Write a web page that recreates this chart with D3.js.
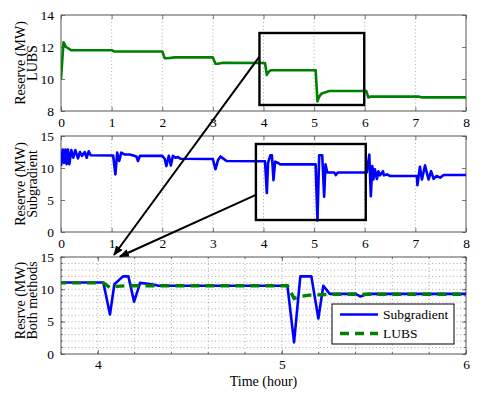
<!DOCTYPE html>
<html>
<head>
<meta charset="utf-8">
<script src="https://cdn.jsdelivr.net/npm/d3@7"></script>
<style>
  body { margin: 0; background: #fff; }
  svg { display: block; }
  text { font-family: "Liberation Serif", "Times New Roman", serif; fill: #000; }
</style>
</head>
<body>
<svg width="485" height="393"></svg>
<script>
  // LUBS reserve (MW) over time (hour)
  const lubsTime = [0, 0.05, 0.1, 0.2, 1.0, 1.05, 2.0, 2.05, 2.1, 2.25, 3.0, 3.05, 3.1, 3.2,
    4.03, 4.066, 4.1, 4.15, 5.03, 5.066, 5.1, 5.15, 5.3, 6.03, 6.07, 6.12, 7.08, 7.12, 8];
  const lubsValue = [10, 12.3, 12.0, 11.8, 11.8, 11.72, 11.72, 11.3, 11.3, 11.35, 11.35, 10.95, 10.95, 11.02,
    11.0, 10.25, 10.45, 10.55, 10.55, 8.6, 8.9, 9.1, 9.25, 9.25, 8.85, 8.9, 8.9, 8.85, 8.85];

  // Subgradient reserve (MW) over time (hour)
  const subTime = [0, 0.033, 0.059, 0.086, 0.112, 0.138, 0.165, 0.204, 0.244, 0.283, 0.336, 0.375, 0.415,
    0.468, 0.507, 0.547, 0.586, 1.03, 1.074, 1.11, 1.15, 1.19, 1.26, 1.36, 1.49, 1.52, 1.56, 2.0, 2.05,
    2.08, 2.13, 2.17, 2.21, 2.26, 2.31, 2.36, 3.0, 3.05, 3.10, 3.15, 3.2, 3.27, 4.03, 4.066, 4.09, 4.137,
    4.166, 4.197, 4.23, 4.3, 4.33, 5.03, 5.066, 5.1, 5.16, 5.198, 5.225, 5.26, 5.4, 5.425, 5.47, 6.04,
    6.09, 6.12, 6.15, 6.17, 6.20, 6.24, 6.27, 6.30, 6.36, 6.38, 6.44, 6.5, 7.03, 7.04, 7.09, 7.13, 7.19,
    7.26, 7.31, 7.36, 7.42, 7.49, 7.56, 7.62, 8.0];
  const subValue = [10.3, 12.9, 10.8, 12.9, 10.6, 12.9, 10.6, 12.8, 11.6, 12.8, 11.5, 12.5, 11.9,
    12.5, 11.6, 12.6, 12.0, 11.95, 9.0, 12.4, 11.1, 12.4, 12.1, 12.1, 11.8, 11.1, 11.9, 11.9, 11.4,
    10.3, 11.9, 10.4, 11.9, 11.6, 11.7, 11.45, 11.4, 9.8, 11.2, 11.8, 11.5, 11.1, 11.05, 6.1, 10.8, 12.0,
    12.0, 8.1, 11.0, 10.75, 10.56, 10.56, 1.8, 12.0, 12.0, 5.5, 10.56, 9.3, 9.3, 8.9, 9.3, 9.3,
    12.1, 5.6, 10.3, 8.2, 9.8, 8.3, 9.5, 8.85, 9.5, 8.85, 9.0, 8.75, 8.75, 7.3, 10.2, 8.2, 10.4,
    8.2, 9.5, 8.3, 8.75, 8.5, 8.9, 8.9, 8.9];

  const topXTicks = [0, 1, 2, 3, 4, 5, 6, 7, 8];
  const topYTicks = [8, 10, 12, 14];
  const midYTicks = [0, 5, 10, 15];
  const botXTicks = [4, 5, 6];
  const botYTicks = [0, 5, 10, 15];

  // zoom boxes and arrows (data units of their panels)
  const topBoxX = [3.92, 5.99], topBoxY = [8.375, 12.875];
  const midBoxX = [3.85, 6.02], midBoxY = [1.875, 13.75];
  const arrowFromTop = [3.92, 11.4], arrowToA = [4.088, 15.31];
  const arrowFromMid = [3.85, 5.8], arrowToB = [4.12, 15.08];

  const legendLabels = ['Subgradient', 'LUBS'];

  const blue = '#0000ff', green = '#008000', axisColor = '#555', gridColor = '#8a8a8a';
  const serif = '"Liberation Serif", "Times New Roman", serif';

  const svg = d3.select('svg');
  const left = 61, right = 466;

  const panels = [
    { id: 'top', top: 15, bottom: 111, xd: [0, 8], yd: [8, 14], xt: topXTicks, yt: topYTicks,
      labels: ['Reserve (MW)', 'LUBS'], minor: false },
    { id: 'mid', top: 136, bottom: 232, xd: [0, 8], yd: [0, 15], xt: topXTicks, yt: midYTicks,
      labels: ['Reserve (MW)', 'Subgradient'], minor: false },
    { id: 'bot', top: 257, bottom: 354, xd: [3.8, 6], yd: [0, 15], xt: botXTicks, yt: botYTicks,
      labels: ['Resrve (MW)', 'Both methods'], minor: true }
  ];

  const defs = svg.append('defs');
  defs.append('marker')
    .attr('id', 'head')
    .attr('viewBox', '0 0 10 8')
    .attr('refX', 9).attr('refY', 4)
    .attr('markerWidth', 10).attr('markerHeight', 8)
    .attr('markerUnits', 'userSpaceOnUse')
    .attr('orient', 'auto')
    .append('path').attr('d', 'M0,0 L10,4 L0,8 Z').attr('fill', '#000');

  panels.forEach(p => {
    p.x = d3.scaleLinear().domain(p.xd).range([left, right]);
    p.y = d3.scaleLinear().domain(p.yd).range([p.bottom, p.top]);
    defs.append('clipPath').attr('id', 'clip-' + p.id)
      .append('rect').attr('x', left).attr('y', p.top)
      .attr('width', right - left).attr('height', p.bottom - p.top);
  });

  const lineOf = (p, ts, vs) => d3.line()
    .x((d, i) => p.x(ts[i]))
    .y((d, i) => p.y(vs[i]))(vs);

  const fmt = d => String(d);

  panels.forEach(p => {
    const g = svg.append('g');
    g.append('rect').attr('x', left).attr('y', p.top)
      .attr('width', right - left).attr('height', p.bottom - p.top).attr('fill', '#fff');

    // grid
    const grid = g.append('g').attr('stroke', gridColor).attr('stroke-width', 0.7)
      .attr('stroke-dasharray', '1,2.5');
    let vx = p.xt.filter(t => t > p.xd[0] && t < p.xd[1]);
    if (p.minor) {
      vx = d3.range(p.xd[0] + 0.2, p.xd[1] - 0.01, 0.2).map(v => +v.toFixed(2));
      const hy = d3.range(1, 15, 1);
      grid.selectAll('.hy').data(hy).enter().append('line')
        .attr('x1', left).attr('x2', right)
        .attr('y1', d => p.y(d)).attr('y2', d => p.y(d));
    }
    grid.selectAll('.vx').data(vx).enter().append('line')
      .attr('x1', d => p.x(d)).attr('x2', d => p.x(d))
      .attr('y1', p.top).attr('y2', p.bottom);

    // axes with inward ticks on all four sides
    const xb = d3.axisBottom(p.x).tickValues(p.xt).tickFormat(fmt).tickSizeInner(-4).tickSizeOuter(0)
      .tickPadding(p.minor ? 5 : 6);
    const xtop = d3.axisTop(p.x).tickValues(p.xt).tickSizeInner(-4).tickSizeOuter(0).tickFormat('');
    const yl = d3.axisLeft(p.y).tickValues(p.yt).tickFormat(fmt).tickSizeInner(-4).tickSizeOuter(0).tickPadding(7);
    const yr = d3.axisRight(p.y).tickValues(p.yt).tickSizeInner(-4).tickSizeOuter(0).tickFormat('');

    g.append('g').attr('transform', `translate(0,${p.bottom})`).call(xb);
    g.append('g').attr('transform', `translate(0,${p.top})`).call(xtop);
    g.append('g').attr('transform', `translate(${left},0)`).call(yl);
    g.append('g').attr('transform', `translate(${right},0)`).call(yr);
    if (p.minor) {
      const mx = d3.range(p.xd[0], p.xd[1] + 0.01, 0.2).map(v => +v.toFixed(2));
      const my = d3.range(0, 16, 1);
      const mg = g.append('g').attr('stroke', axisColor).attr('stroke-width', 0.8);
      mx.forEach(v => {
        mg.append('line').attr('x1', p.x(v)).attr('x2', p.x(v)).attr('y1', p.bottom).attr('y2', p.bottom - 2);
        mg.append('line').attr('x1', p.x(v)).attr('x2', p.x(v)).attr('y1', p.top).attr('y2', p.top + 2);
      });
      my.forEach(v => {
        mg.append('line').attr('x1', left).attr('x2', left + 2).attr('y1', p.y(v)).attr('y2', p.y(v));
        mg.append('line').attr('x1', right).attr('x2', right - 2).attr('y1', p.y(v)).attr('y2', p.y(v));
      });
    }
    g.selectAll('.domain').remove();
    g.selectAll('g').attr('font-family', serif).attr('font-size', 13);
    g.selectAll('.tick line').attr('stroke', axisColor).attr('stroke-width', 0.8);
    g.selectAll('.tick text').style('font-size', '13.5px')
      .style('font-family', serif).attr('fill', '#000');

    g.append('rect').attr('x', left).attr('y', p.top)
      .attr('width', right - left).attr('height', p.bottom - p.top)
      .attr('fill', 'none').attr('stroke', axisColor).attr('stroke-width', 1);

    // y label, two lines
    const cy = (p.top + p.bottom) / 2 - (p.minor ? 5 : 0);
    p.labels.forEach((t, i) => {
      g.append('text')
        .attr('transform', `translate(${25 + i * 12},${cy}) rotate(-90)`)
        .attr('text-anchor', 'middle')
        .style('font-size', '14px')
        .style('font-family', serif)
        .text(t);
    });
  });

  const [pt, pm, pb] = panels;

  // series
  svg.append('path').attr('clip-path', 'url(#clip-top)')
    .attr('d', lineOf(pt, lubsTime, lubsValue))
    .attr('fill', 'none').attr('stroke', green).attr('stroke-width', 2.6).attr('stroke-linejoin', 'round');
  svg.append('path').attr('clip-path', 'url(#clip-mid)')
    .attr('d', lineOf(pm, subTime, subValue))
    .attr('fill', 'none').attr('stroke', blue).attr('stroke-width', 2.6).attr('stroke-linejoin', 'round');
  svg.append('path').attr('clip-path', 'url(#clip-bot)')
    .attr('d', lineOf(pb, subTime, subValue))
    .attr('fill', 'none').attr('stroke', blue).attr('stroke-width', 2.6).attr('stroke-linejoin', 'round');
  svg.append('path').attr('clip-path', 'url(#clip-bot)')
    .attr('d', lineOf(pb, lubsTime, lubsValue))
    .attr('fill', 'none').attr('stroke', green).attr('stroke-width', 3.4)
    .attr('stroke-dasharray', '9,6');

  // zoom boxes
  [[pt, topBoxX, topBoxY], [pm, midBoxX, midBoxY]].forEach(([p, bx, by]) => {
    svg.append('rect')
      .attr('x', p.x(bx[0])).attr('y', p.y(by[1]))
      .attr('width', p.x(bx[1]) - p.x(bx[0])).attr('height', p.y(by[0]) - p.y(by[1]))
      .attr('fill', 'none').attr('stroke', '#000').attr('stroke-width', 2.4);
  });

  // arrows
  [[pt, arrowFromTop, arrowToA], [pm, arrowFromMid, arrowToB]].forEach(([p, a, b]) => {
    svg.append('line')
      .attr('x1', p.x(a[0])).attr('y1', p.y(a[1]))
      .attr('x2', pb.x(b[0])).attr('y2', pb.y(b[1]))
      .attr('stroke', '#000').attr('stroke-width', 2)
      .attr('marker-end', 'url(#head)');
  });

  // legend
  const lg = svg.append('g').attr('transform', 'translate(332,304)');
  lg.append('rect').attr('width', 122).attr('height', 40)
    .attr('fill', '#fff').attr('stroke', '#000').attr('stroke-width', 1);
  legendLabels.forEach((t, i) => {
    const yy = 10.5 + i * 19;
    lg.append('line').attr('x1', 8).attr('x2', 46).attr('y1', yy).attr('y2', yy)
      .attr('stroke', i ? green : blue)
      .attr('stroke-width', i ? 3.4 : 2.6)
      .attr('stroke-dasharray', i ? '9,6' : null);
    lg.append('text').attr('x', 51).attr('y', yy + 4.5)
      .style('font-size', '13.5px').style('font-family', serif).text(t);
  });

  svg.append('text')
    .attr('x', (left + right) / 2).attr('y', 386)
    .attr('text-anchor', 'middle')
    .style('font-size', '14px')
    .style('font-family', serif)
    .text('Time (hour)');
</script>
</body>
</html>
